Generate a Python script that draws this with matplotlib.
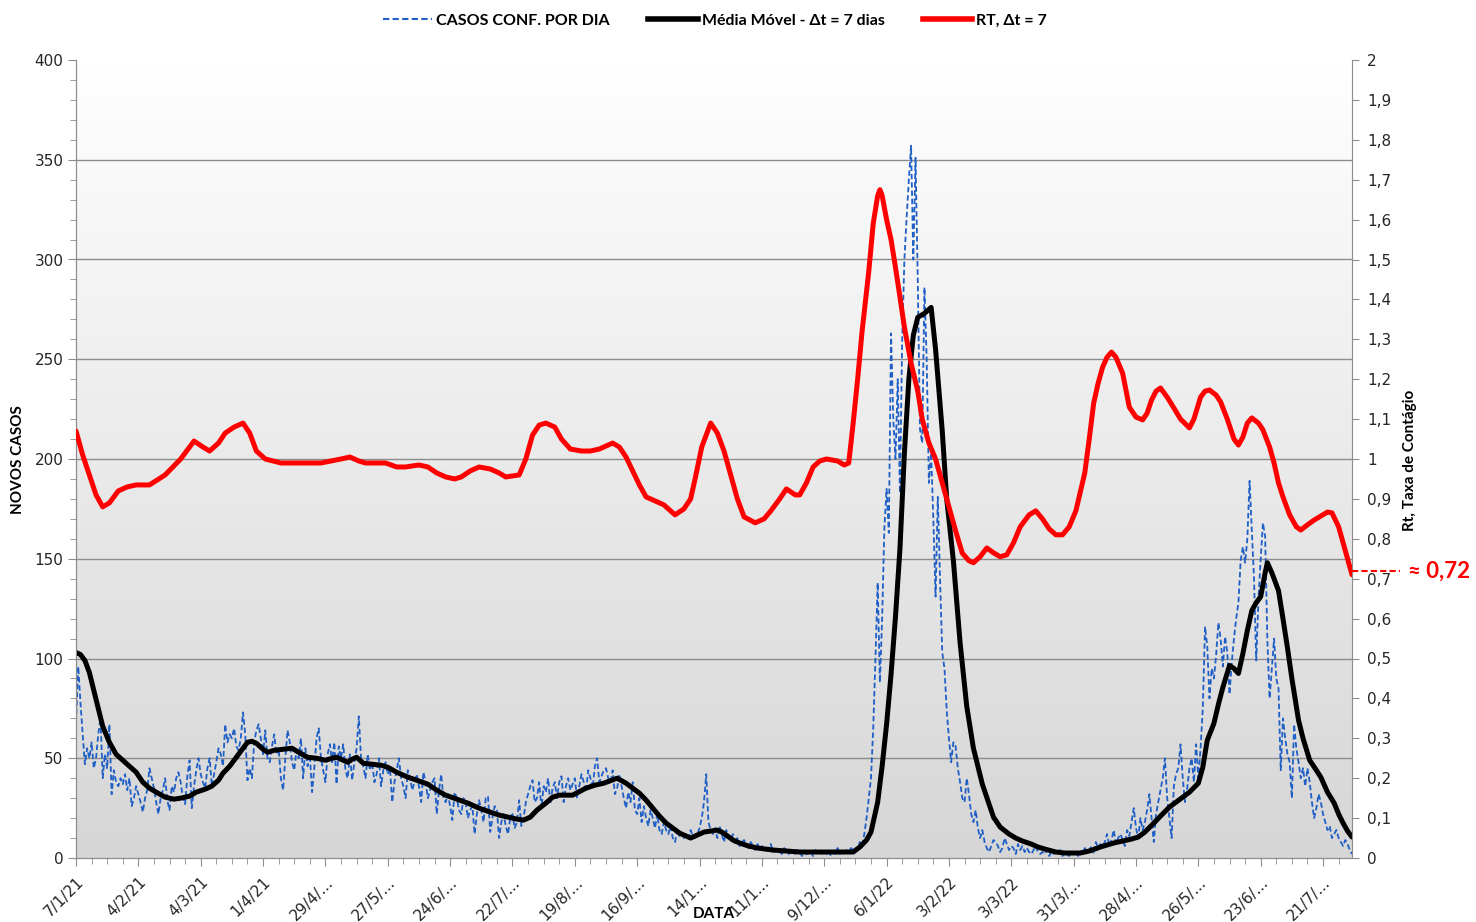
import numpy as np
import matplotlib
matplotlib.use("Agg")
import matplotlib.pyplot as plt
from matplotlib.colors import LinearSegmentedColormap
from matplotlib.lines import Line2D
from matplotlib.ticker import MultipleLocator, FixedLocator, FuncFormatter
import matplotlib.transforms as mtransforms

# ---------------- DATA ----------------
# daily confirmed cases, starting 7/1/21 (one value per day)
casos = [
    68, 96, 78, 62, 47, 55, 50,
    58, 45, 50, 62, 70, 40, 52,
    45, 67, 32, 44, 38, 36, 40,
    37, 42, 34, 40, 26, 30, 36,
    32, 28, 23, 30, 34, 45, 40,
    35, 28, 22, 30, 34, 40, 29,
    24, 36, 33, 40, 43, 38, 30,
    27, 41, 49, 25, 36, 44, 50,
    42, 38, 35, 45, 50, 36, 42,
    48, 55, 52, 46, 67, 58, 62,
    60, 65, 56, 54, 60, 73, 62,
    39, 45, 40, 58, 64, 67, 60,
    52, 64, 50, 48, 56, 62, 52,
    55, 40, 34, 50, 64, 58, 48,
    44, 54, 50, 60, 40, 55, 46,
    52, 33, 45, 60, 65, 50, 44,
    38, 52, 57, 48, 58, 37, 56,
    50, 57, 44, 40, 52, 39, 48,
    55, 71, 50, 46, 40, 52, 44,
    48, 38, 42, 50, 36, 44, 48,
    42, 45, 28, 38, 44, 50, 40,
    36, 30, 44, 40, 34, 38, 42,
    36, 28, 43, 38, 30, 34, 38,
    40, 22, 34, 42, 30, 28, 32,
    26, 19, 33, 30, 24, 22, 30,
    28, 20, 24, 26, 12, 22, 29,
    24, 18, 30, 31, 13, 20, 26,
    24, 10, 18, 22, 16, 12, 20,
    22, 15, 18, 29, 16, 20, 28,
    32, 36, 39, 28, 30, 38, 25,
    36, 33, 40, 27, 35, 38, 30,
    38, 41, 28, 36, 40, 34, 37,
    40, 30, 36, 42, 38, 33, 44,
    40, 35, 46, 50, 38, 41, 44,
    45, 40, 38, 44, 32, 35, 42,
    36, 30, 25, 33, 28, 38, 24,
    22, 30, 18, 26, 20, 16, 24,
    20, 15, 22, 14, 12, 18, 14,
    12, 16, 10, 8, 14, 11, 13,
    10, 12, 9, 14, 11, 10, 12,
    15, 20, 28, 42, 18, 14, 12,
    15, 10, 16, 12, 8, 14, 11,
    9, 12, 7, 10, 6, 8, 9,
    7, 5, 8, 6, 4, 7, 5,
    6, 4, 3, 5, 7, 3, 4,
    4, 3, 2, 5, 4, 2, 3,
    3, 2, 4, 3, 1, 3, 2,
    2, 3, 1, 4, 2, 3, 2,
    3, 2, 4, 1, 3, 2, 5,
    2, 3, 2, 4, 3, 5, 4,
    3, 5, 8, 6, 12, 20, 30,
    40, 65, 100, 138, 88, 120, 165,
    185, 163, 263, 220, 200, 240, 183,
    260, 300, 321, 340, 357, 300, 351,
    290, 215, 208, 286, 250, 188, 203,
    170, 131, 181, 140, 103, 95, 74,
    60, 48, 58, 56, 45, 38, 30,
    28, 40, 32, 22, 18, 24, 15,
    10, 14, 8, 5, 3, 6, 9,
    8, 6, 3, 5, 10, 7, 4,
    6, 5, 2, 7, 4, 6, 3,
    5, 3, 2, 4, 6, 3, 2,
    3, 2, 4, 1, 3, 2, 3,
    2, 4, 1, 3, 2, 1, 3,
    2, 3, 1, 4, 2, 5, 3,
    4, 6, 2, 8, 5, 7, 6,
    8, 12, 6, 9, 14, 7, 10,
    12, 9, 6, 14, 11, 18, 25,
    15, 10, 20, 14, 18, 24, 32,
    20, 8, 22, 28, 34, 40, 50,
    30, 20, 10, 36, 42, 45, 57,
    40, 28, 35, 45, 50, 38, 57,
    40, 55, 75, 116, 106, 80, 95,
    90, 102, 118, 110, 96, 111, 103,
    82, 98, 110, 120, 128, 149, 156,
    148, 160, 189, 165, 140, 99, 130,
    150, 168, 161, 109, 80, 95, 110,
    90, 85, 44, 70, 60, 52, 48,
    30, 67, 55, 48, 40, 45, 36,
    45, 38, 28, 20, 25, 32, 28,
    22, 18, 14, 16, 10, 12, 14,
    10, 8, 6, 9, 7, 4, 2,
]

# 7-day moving average (day index, value)
dias_mm = [0, 2, 4, 6, 8, 10, 12, 15, 18, 21, 24, 27, 30, 33, 36, 40, 44, 47, 51, 54,
           58, 61, 64, 66, 69, 72, 75, 77, 79, 81, 84, 86, 89, 93, 97, 100, 104, 108, 112, 115,
           117, 120, 122, 124, 126, 129, 133, 137, 140, 144, 149, 153, 158, 162, 166, 171, 176, 181, 186, 190,
           194, 198, 201, 204, 207, 211, 214, 217, 223, 229, 233, 237, 243, 247, 250, 253, 256, 259, 262, 265,
           268, 271, 274, 276, 279, 282, 285, 288, 290, 292, 295, 298, 302, 306, 313, 319, 325, 336, 345, 349,
           352, 355, 357, 360, 362, 364, 366, 368, 370, 372, 374, 376, 378, 381, 384, 386, 389, 391, 394, 397,
           400, 403, 407, 410, 412, 415, 419, 422, 425, 429, 432, 435, 440, 444, 451, 455, 460, 466, 470, 474,
           477, 480, 484, 487, 491, 494, 497, 500, 504, 506, 508, 511, 513, 515, 518, 520, 522, 524, 526, 528,
           530, 532, 534, 535, 537, 540, 542, 544, 546, 549, 551, 554, 557, 559, 562, 565, 567, 569, 571, 573]
media_movel = [103, 102, 99, 93, 84, 75, 66, 58, 52, 49, 46, 43, 38, 35, 33, 30.5, 29.5, 30, 31, 33,
               34.5, 36, 39, 42.5, 46, 50.5, 55, 58, 58.5, 57.5, 54.5, 53, 54, 54.5, 55, 53, 50.5, 50, 49, 50,
               50.5, 49, 48, 49.5, 50.5, 47.5, 47, 46.5, 45.5, 43, 40.5, 39, 37, 34, 31.5, 29.5, 27.5, 25, 23, 21.5,
               20.5, 19.5, 19, 20.5, 24, 27.5, 30.5, 31.5, 31.5, 35, 36.5, 37.5, 40, 37.5, 35, 32.5, 29, 25, 21, 17.5,
               15, 12.5, 11, 10, 11.5, 13, 13.5, 14, 13, 11.5, 9, 7.5, 6, 5, 4, 3.5, 3, 3, 3, 3,
               5.5, 9, 13, 28, 46, 67, 92, 121, 155, 203, 240, 262, 271, 273, 276, 255, 214, 180, 149, 108,
               76, 55, 37, 27, 20.5, 15.5, 12, 10, 8.5, 7, 5.5, 4.5, 3, 2.5, 2.5, 3.5, 5.5, 7.5, 8.5, 9.5,
               10.5, 13, 17.5, 21, 25.5, 28, 30.5, 33, 37.5, 45.5, 59, 67.5, 77, 85.5, 96.5, 95, 92.5, 102.5, 114, 124,
               128, 131, 143, 148, 143, 134, 120, 105.5, 90, 69, 60, 49, 44, 40.5, 33, 27.5, 22, 17.5, 13.5, 10.5]

# Rt (day index, value)
dias_rt = [0, 3, 6, 9, 12, 15, 19, 23, 27, 33, 40, 47, 53, 57, 60, 64, 67, 71, 75, 78,
           81, 85, 92, 101, 110, 119, 123, 127, 130, 139, 144, 148, 154, 158, 162, 166, 170, 173, 177, 181,
           186, 190, 193, 199, 202, 205, 208, 211, 215, 218, 222, 227, 231, 235, 241, 244, 247, 250, 253, 256,
           260, 264, 269, 273, 276, 278, 281, 285, 288, 291, 294, 297, 300, 305, 309, 312, 316, 319, 323, 325,
           328, 331, 334, 337, 342, 345, 347, 349, 351, 353, 356, 358, 360, 361, 362, 364, 366, 368, 370, 372,
           375, 378, 380, 383, 386, 389, 392, 395, 398, 401, 403, 406, 409, 412, 415, 418, 421, 424, 428, 431,
           434, 437, 440, 443, 446, 449, 453, 455, 457, 459, 461, 463, 465, 467, 470, 473, 476, 479, 481, 483,
           485, 487, 490, 493, 496, 500, 502, 505, 507, 509, 512, 514, 517, 520, 522, 524, 526, 528, 531, 533,
           536, 538, 540, 542, 545, 548, 550, 553, 556, 559, 562, 564, 567, 570, 573]
rt = [1.07, 1.01, 0.96, 0.91, 0.88, 0.89, 0.92, 0.93, 0.935, 0.935, 0.96, 1.0, 1.045, 1.03, 1.02, 1.04, 1.065, 1.08, 1.09, 1.065,
      1.02, 1.0, 0.99, 0.99, 0.99, 1.0, 1.005, 0.995, 0.99, 0.99, 0.98, 0.98, 0.985, 0.98, 0.965, 0.955, 0.95, 0.955, 0.97, 0.98,
      0.975, 0.965, 0.955, 0.96, 1.0, 1.06, 1.085, 1.09, 1.08, 1.05, 1.025, 1.02, 1.02, 1.025, 1.04, 1.03, 1.005, 0.97, 0.935, 0.905,
      0.895, 0.885, 0.86, 0.875, 0.90, 0.95, 1.03, 1.09, 1.065, 1.02, 0.96, 0.90, 0.855, 0.84, 0.85, 0.87, 0.90, 0.925, 0.91, 0.91,
      0.94, 0.98, 0.995, 1.0, 0.995, 0.985, 0.99, 1.09, 1.2, 1.32, 1.47, 1.59, 1.66, 1.675, 1.66, 1.6, 1.55, 1.48, 1.406, 1.33,
      1.24, 1.17, 1.10, 1.04, 1.0, 0.94, 0.88, 0.82, 0.764, 0.745, 0.74, 0.755, 0.777, 0.765, 0.755, 0.76, 0.79, 0.83, 0.86, 0.87,
      0.85, 0.825, 0.81, 0.81, 0.83, 0.87, 0.965, 1.05, 1.14, 1.19, 1.23, 1.255, 1.268, 1.255, 1.215, 1.13, 1.105, 1.098, 1.115, 1.148,
      1.17, 1.178, 1.155, 1.128, 1.1, 1.078, 1.1, 1.155, 1.17, 1.173, 1.16, 1.143, 1.1, 1.05, 1.035, 1.055, 1.09, 1.103, 1.09, 1.073,
      1.03, 0.99, 0.94, 0.905, 0.86, 0.83, 0.822, 0.835, 0.847, 0.857, 0.867, 0.865, 0.83, 0.77, 0.71]

rt_final_label = "≈ 0,72"
rt_final_valor = 0.72

rotulos_x = ["7/1/21", "4/2/21", "4/3/21", "1/4/21", "29/4/...", "27/5/...", "24/6/...",
             "22/7/...", "19/8/...", "16/9/...", "14/1...", "11/1...", "9/12/...", "6/1/22",
             "3/2/22", "3/3/22", "31/3/...", "28/4/...", "26/5/...", "23/6/...", "21/7/..."]

# ---------------- PLOT ----------------
W, H = 1476, 922
fig = plt.figure(figsize=(W / 100, H / 100), dpi=100)
fig.patch.set_facecolor("white")
L, R, B, T = 76 / W, 1352 / W, 1 - 858 / H, 1 - 60 / H
ax = fig.add_axes([L, B, R - L, T - B])
ax2 = ax.twinx()

n = len(casos)
dias = np.arange(n)

# gradient background
cmap = LinearSegmentedColormap.from_list("bg", ["#ffffff", "#d6d6d6"])
grad = np.linspace(0, 1, 256).reshape(-1, 1)
ax.imshow(grad, cmap=cmap, extent=[0, 1, 0, 1], transform=ax.transAxes,
          aspect="auto", zorder=0, interpolation="bicubic")
ax.patch.set_alpha(0)

ax.plot(dias, casos, color="#1f5fc6", lw=1.3, ls=(0, (3.0, 1.6)), zorder=3)
ax.plot(dias_mm, media_movel, color="black", lw=3.6, zorder=4,
        solid_joinstyle="round", solid_capstyle="round")
ax2.plot(dias_rt, rt, color="#ff0000", lw=3.6, zorder=5,
         solid_joinstyle="round", solid_capstyle="round")

ax.set_xlim(0, n - 1)
ax.set_ylim(0, 400)
ax2.set_ylim(0, 2)

# grid
for yv in range(50, 400, 50):
    ax.axhline(yv, color="#8c8c8c", lw=1.0, zorder=1)

# ticks
ax.xaxis.set_major_locator(FixedLocator(np.arange(0, n, 28)))
ax.xaxis.set_minor_locator(FixedLocator(np.arange(0, n, 7)))
ax.set_xticklabels(rotulos_x, rotation=45, ha="right", rotation_mode="anchor",
                   fontsize=11, color="#262626", family="DejaVu Sans")
ax.yaxis.set_major_locator(MultipleLocator(50))
ax.yaxis.set_minor_locator(MultipleLocator(10))
ax2.yaxis.set_major_locator(MultipleLocator(0.1))
fmt = FuncFormatter(lambda v, p: ("%g" % round(v, 1)).replace(".", ","))
ax2.yaxis.set_major_formatter(fmt)

ax.tick_params(axis="y", which="major", length=6, color="#8c8c8c", labelsize=11,
               labelcolor="#262626", pad=3)
ax.tick_params(axis="y", which="minor", length=4, color="#8c8c8c")
ax.tick_params(axis="x", which="major", length=6, color="#8c8c8c", pad=6)
ax.tick_params(axis="x", which="minor", length=4, color="#8c8c8c")
ax2.tick_params(axis="y", which="major", length=5, color="#8c8c8c", labelsize=11,
                labelcolor="#262626", pad=6)

for a in (ax, ax2):
    a.spines["top"].set_visible(False)
    for s in ("left", "right", "bottom"):
        a.spines[s].set_color("#8c8c8c")
ax.spines["right"].set_visible(False)

# axis titles
lab_font = dict(fontsize=11, fontweight="bold", family="Lato", color="black")
fig.text(18 / W, 1 - 460 / H, "NOVOS CASOS", rotation=90, ha="center", va="center", **lab_font)
fig.text(1410 / W, 1 - 460 / H, "Rt, Taxa de Contágio", rotation=90, ha="center", va="center", **lab_font)
fig.text(714 / W, 1 - 914 / H, "DATA", ha="center", va="center", **lab_font)

# final Rt annotation
trans = mtransforms.blended_transform_factory(ax2.transAxes, ax2.transData)
ax2.plot([1.0, 1.038], [rt_final_valor, rt_final_valor], color="#ff0000", lw=1.5,
         ls=(0, (3, 1.5)), transform=trans, clip_on=False, zorder=6)
ax2.text(1.044, rt_final_valor, rt_final_label, transform=trans, color="#ff0000",
         fontsize=16, fontweight="bold", family="Lato", ha="left", va="center")

# legend
handles = [Line2D([], [], color="#1f5fc6", lw=1.5, ls=(0, (3.0, 1.6))),
           Line2D([], [], color="black", lw=4),
           Line2D([], [], color="#ff0000", lw=4)]
labels = ["CASOS CONF. POR DIA", "Média Móvel - Δt = 7 dias", "RT, Δt = 7"]
fig.legend(handles, labels, loc="center", bbox_to_anchor=(715 / W, 1 - 21 / H), ncol=3,
           frameon=False, prop=dict(family="Lato", weight="bold", size=11.5),
           handlelength=3.1, handletextpad=0.25, columnspacing=2.4)

fig.savefig("out.png", dpi=100)
